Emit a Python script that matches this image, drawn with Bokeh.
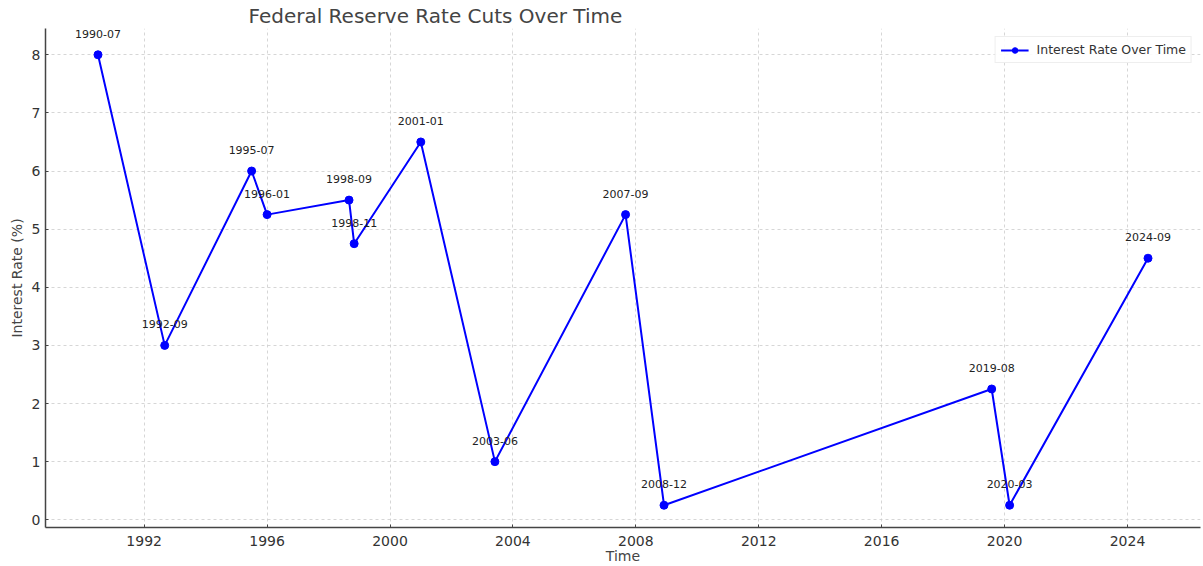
import pandas as pd
from bokeh.plotting import figure
from bokeh.core.properties import value
from bokeh.models import (ColumnDataSource, LabelSet, Range1d,
                          DatetimeTickFormatter, FixedTicker, Legend, LegendItem, Title)
from bokeh.embed import file_html
from bokeh.resources import INLINE

dates = ["1990-07", "1992-09", "1995-07", "1996-01", "1998-09", "1998-11", "2001-01",
         "2003-06", "2007-09", "2008-12", "2019-08", "2020-03", "2024-09"]
rates = [8.0, 3.0, 6.0, 5.25, 5.5, 4.75, 6.5, 1.0, 5.25, 0.25, 2.25, 0.25, 4.5]
year_ticks = [1992, 1996, 2000, 2004, 2008, 2012, 2016, 2020, 2024]
rate_ticks = [0, 1, 2, 3, 4, 5, 6, 7, 8]

src = ColumnDataSource(dict(x=pd.to_datetime(dates), y=rates, label=dates))
year_ms = [pd.Timestamp(f"{y}-01-01").value / 1e6 for y in year_ticks]

FONT = "DejaVu Sans"
x0, x1 = pd.Timestamp("1988-10-15"), pd.Timestamp("2026-05-18")
y0, y1 = -0.133, 8.452
p = figure(width=1203, height=566, x_axis_type="datetime", output_backend="svg",
           toolbar_location=None,
           x_range=Range1d(x0, x1), y_range=Range1d(y0, y1),
           min_border_left=45, min_border_right=3, min_border_top=28, min_border_bottom=39)
p.outline_line_color = None
p.background_fill_color = "white"
p.border_fill_color = "white"

p.title = Title(text="Federal Reserve Rate Cuts Over Time", align="left", offset=203,
                text_font=FONT, text_font_size="20px", text_font_style="normal",
                text_color="#444444", standoff=2)

line = p.line("x", "y", source=src, line_color="#0000ff", line_width=2)
pts = p.scatter("x", "y", source=src, size=8, fill_color="#0000ff", line_color="#0000ff")

labels = LabelSet(x="x", y="y", text="label", source=src, text_align="center",
                  text_baseline="middle", y_offset=21, text_font_size=value("11px"),
                  text_font=value(FONT), text_color="#222222")
p.add_layout(labels)

p.xaxis.ticker = FixedTicker(ticks=year_ms)
p.xaxis.formatter = DatetimeTickFormatter(years="%Y", months="%Y", days="%Y")
p.yaxis.ticker = FixedTicker(ticks=rate_ticks)
p.xaxis.axis_label = "Time"
p.yaxis.axis_label = "Interest Rate (%)"
for ax in (p.xaxis[0], p.yaxis[0]):
    ax.axis_label_text_font = FONT
    ax.axis_label_text_font_size = "14px"
    ax.axis_label_text_font_style = "normal"
    ax.axis_label_text_color = "#444444"
    ax.major_label_text_font = FONT
    ax.major_label_text_font_size = "14px"
    ax.major_label_text_color = "#333333"
    ax.axis_line_color = "#444444"
    ax.axis_line_width = 1.5
    ax.major_tick_line_color = "#444444"
    ax.major_tick_in = 3
    ax.major_tick_out = 0
    ax.minor_tick_line_color = None
p.xaxis.major_label_standoff = 8
p.xaxis.axis_label_standoff = -1
p.yaxis.major_label_standoff = 5
p.yaxis.axis_label_standoff = 4

for g in (p.xgrid[0], p.ygrid[0]):
    g.grid_line_color = "#cccccc"
    g.grid_line_dash = "3 3"
    g.grid_line_width = 0.8
p.xgrid.ticker = FixedTicker(ticks=year_ms)
p.ygrid.ticker = FixedTicker(ticks=rate_ticks)

legend = Legend(items=[LegendItem(label="Interest Rate Over Time", renderers=[line, pts])],
                location="top_right", label_text_font=FONT, label_text_font_size="12.5px",
                label_text_color="#333333", border_line_color="#dddddd",
                border_line_width=1, background_fill_alpha=0.9,
                padding=5, margin=8, spacing=0, glyph_width=28, glyph_height=14,
                label_standoff=8)
p.add_layout(legend)

open("out.html", "w").write(file_html(p, INLINE))
